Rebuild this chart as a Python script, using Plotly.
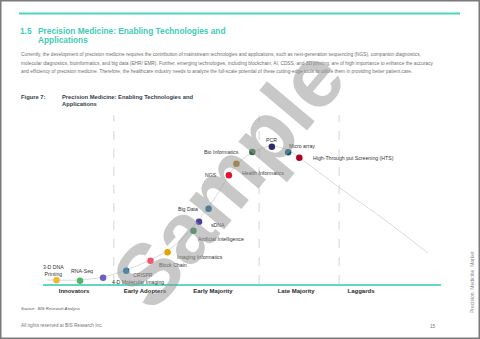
import plotly.graph_objects as go

# ---------------- data ----------------
tech_names = ["3-D DNA<br>Printing", "RNA-Seq", "4-D Molecular Imaging", "CRISPR", "Block Chain",
              "Imaging Informatics", "Artificial Intelligence", "sDNA", "Big Data", "NGS",
              "Health Informatics", "Bio Informatics", "PCR", "Micro array",
              "High-Through put Screening (HTS)"]
tech_x = [3.4, 9.3, 15.1, 20.9, 27.0, 31.3, 37.8, 39.2, 41.6, 46.7, 48.6, 52.6, 57.5, 61.6, 64.4]
tech_y = [2.1, 1.9, 3.6, 7.6, 13.4, 18.2, 30.6, 35.8, 43.3, 62.5, 69.1, 75.9, 78.9, 75.7, 72.6]
tech_colors = ["#f6b531", "#4cb865", "#6b5fc5", "#0a75b9", "#f2566f", "#e6a300", "#2f8b50",
               "#4b3f9e", "#00608f", "#e8112d", "#a67b0a", "#2c6a3b", "#2d2a6b", "#0b5a78", "#b3001e"]

curve_x = [1.0, 9.3, 15.1, 20.9, 26.9, 31.2, 35.7, 40.7, 44.5, 47.5, 50.8, 54.5, 57.5, 61.6, 64.6, 74.6, 85.9, 96.7]
curve_y = [2.3, 2.3, 4.0, 8.0, 13.8, 19.0, 27.6, 41.4, 54.0, 65.5, 73.0, 77.6, 79.3, 77.0, 72.4, 55.2, 36.8, 17.8]

divider_x = [17.8, 54.3, 74.4]
divider_top = 97

stage_labels = ["Innovators", "Early Adopters", "Early Majority", "Late Majority", "Laggards"]
stage_x = [7.8, 25.6, 42.7, 63.6, 79.9]

# label placement style: (xanchor, xshift, yshift)
label_style = [("center", -3, 10), ("center", 2, 10), ("left", 7, -4), ("left", 5, -4),
               ("left", 7, -4.5), ("left", 7, -4.5), ("left", 3, -8.5), ("left", 10, -3.5),
               ("right", -9, 0), ("right", -10, 0), ("left", 4, -9), ("right", -11, 0),
               ("center", 0, 7), ("left", -1, 6), ("left", 12, 0)]

FONT = "Arial, Liberation Sans, sans-serif"
W, H = 480, 339

fig = go.Figure()

# dashed dividers
dx, dy = [], []
for v in divider_x:
    dx += [v, v, None]
    dy += [0, divider_top, None]
fig.add_trace(go.Scatter(x=dx, y=dy, mode="lines",
                         line=dict(color="#d4d4d4", width=1, dash="dash"),
                         hoverinfo="skip", showlegend=False))

# curve
fig.add_trace(go.Scatter(x=curve_x, y=curve_y, mode="lines",
                         line=dict(color="#dadada", width=1, shape="spline", smoothing=0.8),
                         hoverinfo="skip", showlegend=False))

# points
fig.add_trace(go.Scatter(x=tech_x, y=tech_y, mode="markers",
                         marker=dict(size=6.5, color=tech_colors, line=dict(width=0)),
                         hoverinfo="text", text=tech_names, showlegend=False))

annotations = []
for name, x, y, (xa, xs, ys) in zip(tech_names, tech_x, tech_y, label_style):
    annotations.append(dict(x=x, y=y, xref="x", yref="y", text=name, showarrow=False,
                            xanchor=xa, yanchor="middle", xshift=xs, yshift=ys,
                            font=dict(family=FONT, size=5.2, color="#333333"),
                            align="center"))

def ptext(text, x, y, size, color, xanchor="left", yanchor="middle", bold=False, **kw):
    if bold:
        text = "<b>" + text + "</b>"
    annotations.append(dict(x=x / W, y=1 - y / H, xref="paper", yref="paper", text=text,
                            showarrow=False, xanchor=xanchor, yanchor=yanchor,
                            font=dict(family=FONT, size=size, color=color), **kw))

teal = "#3ecbb7"
ptext("1.5", 18, 31, 8.3, teal, bold=True)
ptext("Precision Medicine: Enabling Technologies and", 35.5, 31, 8.3, teal, bold=True)
ptext("Applications", 35.5, 40, 8.3, teal, bold=True)

para = [
    "Currently, the development of precision medicine requires the contribution of mainstream technologies and applications, such as next-generation sequencing (NGS), companion diagnostics,",
    "molecular diagnostics, bioinformatics, and big data (EHR/ EMR). Further, emerging technologies, including blockchain, AI, CDSS, and 3D printing, are of high importance to enhance the accuracy",
    "and efficiency of precision medicine. Therefore, the healthcare industry needs to analyze the full-scale potential of these cutting-edge tools to utilize them in providing better patient care.",
]
for i, line in enumerate(para):
    ptext(line, 18.5, 54.3 + 8.8 * i, 4.8, "#6f6f6f")

ptext("Figure 7:", 18.5, 97, 5.8, "#34404c", bold=True)
ptext("Precision Medicine: Enabling Technologies and", 59.5, 97, 5.8, "#34404c", bold=True)
ptext("Applications", 59.5, 104.3, 5.8, "#34404c", bold=True)

ptext("<i>Source:  BIS Research Analysis</i>", 18.5, 308, 4.2, "#555555")
ptext("All rights reserved at BIS Research Inc.", 18.5, 325.5, 4.7, "#777777")
ptext("15", 433, 326, 4.7, "#777777", xanchor="center")
ptext("Precision  Medicine  Market", 472, 282, 5.0, "#8a8a8a", xanchor="center", textangle=-90)

# watermark
annotations.append(dict(x=228 / W, y=1 - 178 / H, xref="paper", yref="paper", text="<b>Sample</b>",
                        showarrow=False, textangle=-50, xanchor="center", yanchor="middle",
                        font=dict(family=FONT, size=86, color="rgba(150,150,150,0.52)")))

shapes = [
    dict(type="line", xref="paper", yref="paper", x0=19 / W, x1=460 / W,
         y0=1 - 13.5 / H, y1=1 - 13.5 / H, line=dict(color="#4fd3bf", width=2)),
    dict(type="rect", xref="paper", yref="paper", x0=0.5 / W, x1=1 - 0.5 / W,
         y0=0.5 / H, y1=1 - 0.5 / H, line=dict(color="#7a7a7a", width=2)),
]

fig.update_layout(
    width=W, height=H, margin=dict(l=0, r=0, t=0, b=0),
    paper_bgcolor="white", plot_bgcolor="white",
    annotations=annotations, shapes=shapes,
    xaxis=dict(domain=[43 / W, 441 / W], range=[0, 100], showgrid=False, zeroline=False,
               showline=True, linecolor="#5fd6c6", linewidth=2,
               tickmode="array", tickvals=stage_x,
               ticktext=["<b>" + s + "</b>" for s in stage_labels],
               ticks="", tickfont=dict(family=FONT, size=6, color="#2a2a2a"),
               fixedrange=True),
    yaxis=dict(domain=[(H - 284) / H, (H - 110) / H], range=[0, 100], visible=False,
               fixedrange=True),
    showlegend=False,
)

fig.write_html("out.html")
